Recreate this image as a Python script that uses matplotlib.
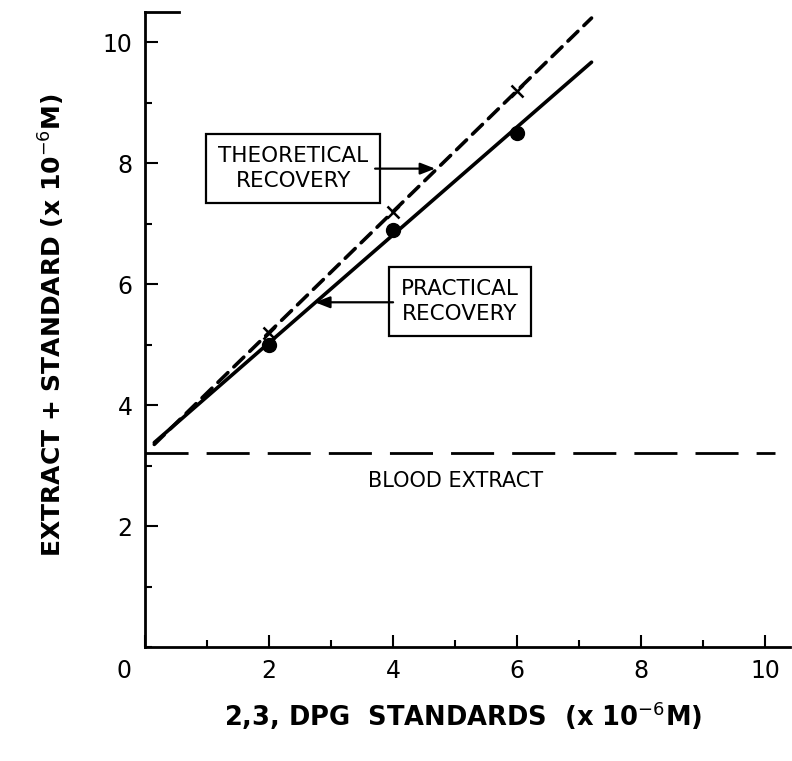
import matplotlib
matplotlib.use("Agg")
import matplotlib.pyplot as plt
from matplotlib.ticker import MultipleLocator, FixedLocator
import matplotlib.transforms as mtransforms

plt.rcParams['font.family'] = ['Liberation Sans Narrow', 'DejaVu Sans']
plt.rcParams['mathtext.fontset'] = 'dejavusans'
plt.rcParams['lines.scale_dashes'] = False

# ---- data ----
standards = [2, 4, 6]                      # 2,3-DPG standards (x10^-6 M)
theoretical_pts = [5.2, 7.2, 9.2]          # theoretical recovery points
practical_pts = [5.0, 6.9, 8.5]            # practical recovery points
line_x = [0.15, 7.2]                       # extent of the fitted lines
theoretical_line = [3.35, 10.4]
practical_line = [3.38, 9.67]
blood_extract = 3.2
xticks = [0, 2, 4, 6, 8, 10]
yticks = [2, 4, 6, 8, 10]

fig = plt.figure(figsize=(7.92, 7.61), dpi=100)
ax = fig.add_axes([145/792, 114/761, 645/792, 635/761])
ax.set_xlim(0, 10.4)
ax.set_ylim(0, 10.5)

for s in ['top', 'right']:
    ax.spines[s].set_visible(False)
for s in ['left', 'bottom']:
    ax.spines[s].set_linewidth(2.0)

# lines
ax.plot(line_x, practical_line, color='black', lw=2.6, solid_capstyle='round')
ax.plot(line_x, theoretical_line, color='black', lw=2.6, dashes=(10, 6),
        dash_capstyle='round')
ax.axhline(blood_extract, xmin=0, xmax=10.16/10.4, color='black', lw=2.0,
           dashes=(31, 13))

# points
ax.plot(standards, practical_pts, 'o', color='black', ms=10)
ax.plot(standards, theoretical_pts, 'x', color='black', ms=8, mew=1.8)

# top frame stub
ax.axhline(10.5, xmin=0, xmax=0.052, color='black', lw=2.0, clip_on=False)

# ticks
ax.xaxis.set_major_locator(FixedLocator(xticks))
ax.xaxis.set_minor_locator(MultipleLocator(1))
ax.yaxis.set_major_locator(FixedLocator(yticks))
ax.yaxis.set_minor_locator(MultipleLocator(1))
ax.tick_params(which='major', direction='in', length=9, width=1.5,
               labelsize=17, pad=9)
ax.tick_params(which='minor', direction='in', length=5, width=1.5)
ax.set_xticklabels([str(t) for t in xticks])
ax.set_yticklabels([str(t) for t in yticks])
# shift the "0" label left as in the reference
lbl0 = ax.get_xticklabels()[0]
lbl0.set_transform(lbl0.get_transform() +
                   mtransforms.ScaledTranslation(-0.21, 0, fig.dpi_scale_trans))

# annotations
box = dict(boxstyle='square,pad=0.55', fc='white', ec='black', lw=1.6)
ax.text(2.39, 7.91, 'THEORETICAL\nRECOVERY', ha='center', va='center',
        fontsize=15.5, linespacing=1.3, bbox=box, multialignment='center')
ax.text(5.08, 5.71, 'PRACTICAL\nRECOVERY', ha='center', va='center',
        fontsize=15.5, linespacing=1.3, bbox=box, multialignment='center')
arrow = dict(arrowstyle='-|>,head_length=0.9,head_width=0.35', color='black',
             lw=1.6, shrinkA=0, shrinkB=0)
ax.annotate('', xy=(4.68, 7.91), xytext=(3.71, 7.91), arrowprops=arrow)
ax.annotate('', xy=(2.74, 5.70), xytext=(4.0, 5.70), arrowprops=arrow)
ax.text(5.0, 2.74, 'BLOOD EXTRACT', ha='center', va='center', fontsize=15)

# axis labels
fig.text(463/792, 1 - 716/761, r'2,3, DPG  STANDARDS  (x 10$^{-6}$M)',
         ha='center', va='center', fontsize=18.5, fontweight='bold')
fig.text(52/792, 1 - 325/761, r'EXTRACT + STANDARD (x 10$^{-6}$M)',
         ha='center', va='center', fontsize=18, fontweight='bold', rotation=90)

fig.savefig('out.png', dpi=100)
